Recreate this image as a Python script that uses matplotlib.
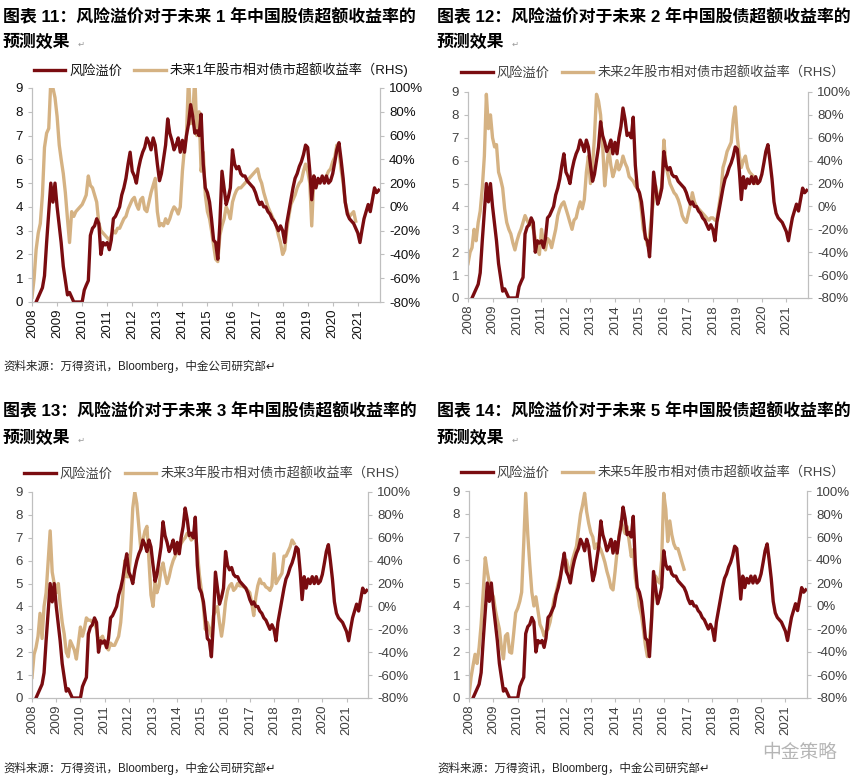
import matplotlib
matplotlib.use('Agg')
import matplotlib.pyplot as plt
import matplotlib.dates as mdates
import pandas as pd
from matplotlib.ticker import FuncFormatter

plt.rcParams['font.family'] = ['Liberation Sans', 'Noto Sans CJK SC', 'DejaVu Sans']

RED = '#7A0C10'
TAN = '#D5B283'
GREY = '#BFBFBF'

# risk premium (LHS), monthly Jan 2008 - Nov 2021
risk_premium = [
    -0.5, -0.3, 0.0, 0.2, 0.4, 0.6, 1.1, 2.5, 3.8, 5.0, 4.2, 5.0,   # 2008
    4.0, 3.2, 2.5, 1.5, 0.9, 0.3, 0.4, 0.2, 0.0, 0.0, 0.0, 0.0,     # 2009
    0.0, 0.5, 0.7, 0.9, 2.8, 3.1, 3.2, 3.5, 3.3, 2.0, 2.5, 2.4,     # 2010
    2.5, 2.2, 2.6, 3.5, 3.6, 3.8, 4.0, 4.5, 4.8, 5.2, 5.8, 6.3,     # 2011
    5.5, 5.3, 5.0, 5.6, 6.0, 6.3, 6.5, 6.9, 6.7, 6.4, 6.9, 6.6,     # 2012
    5.8, 5.1, 5.4, 6.0, 6.6, 7.7, 7.1, 6.8, 6.4, 6.6, 6.9, 6.3,     # 2013
    6.8, 6.3, 7.0, 7.5, 8.3, 7.8, 7.1, 7.2, 7.0, 7.9, 5.8, 4.8,     # 2014
    4.6, 4.2, 3.5, 2.6, 2.5, 1.8, 3.3, 5.5, 4.8, 4.1, 4.4, 4.8,     # 2015
    6.4, 5.8, 5.6, 5.7, 5.4, 5.3, 5.3, 5.1, 5.0, 4.9, 4.8, 4.6,     # 2016
    4.3, 4.1, 4.2, 4.0, 4.0, 3.8, 3.7, 3.5, 3.4, 3.2, 3.0, 3.2,     # 2017
    3.0, 2.5, 3.3, 3.8, 4.3, 4.8, 5.2, 5.4, 5.7, 5.9, 6.2, 6.6,     # 2018
    6.5, 5.5, 4.3, 5.3, 4.8, 5.2, 5.0, 5.3, 5.0, 5.3, 5.0, 5.1,     # 2019
    5.4, 5.9, 6.4, 6.7, 6.0, 5.2, 4.2, 3.7, 3.5, 3.4, 3.3, 3.1,     # 2020
    2.9, 2.5, 3.0, 3.5, 3.8, 4.1, 3.8, 4.3, 4.8, 4.6, 4.7,          # 2021
]

# forward excess return of equities over bonds (RHS, %), monthly from Jan 2008
fwd_1y = [
    -76, -60, -36, -22, -14, 10, 50, 62, 66, 106, 100, 92,
    76, 52, 40, 28, 12, -10, -30, -4, -8, -4, -2, 0,
    2, 6, 10, 26, 18, 16, 10, 4, -14, -20, -22, -24,
    -26, -28, -24, -20, -22, -18, -18, -14, -10, -8, -2, 2,
    6, 8, 2, -2, 6, 8, -2, -4, 4, 12, 18, 24,
    -4, -16, -14, -16, -10, -14, -10, -4, 0, -2, -6, 0,
    30, 50, 60, 110, 70, 76, 110, 60, 80, 30, 46, 10,
    -4, -10, -20, -32, -44, -46, -24, -16, -10, 0, -4, -10,
    4, 10, 14, 16, 16, 18, 20, 22, 24, 26, 28, 30,
    32, 24, 20, 12, 6, 0, -4, -8, -12, -16, -24, -30,
    -40, -36, -20, -8, 2, 6, 10, 16, 20, 22, 30, 36,
    30, 20, -16, 26, 18, 20, 22, 24, 22, 26, 30, 32,
    38, 42, 52, 48, 32, 20, 4, -4, -8, -6, -4, -12,
]

fwd_2y = [
    -50, -40, -36, -20, -30, -14, -4, 16, 44, 98, 68, 80,
    60, 52, 54, 30, 24, 16, -2, -14, -20, -24, -32, -38,
    -30, -24, -20, -14, -8, -12, -16, -14, -20, -28, -36, -42,
    -20, -32, -38, -28, -30, -36, -28, -20, -8, -2, 2, 4,
    -2, -8, -14, -20, -12, -10, -2, 4, -2, 6, 30, 44,
    20, 36, 60, 98, 92, 80, 54, 18, 36, 50, 36, 26,
    32, 40, 32, 36, 44, 38, 34, 26, 24, 22, 18, 16,
    12, -4, -20, -26, -34, -26, -8, 6, 18, 6, 10, 18,
    58, 36, 28, 20, 16, 12, 10, 6, 0, -8, -12, -14,
    -6, 2, 12, 4, 0, -2, -4, -6, -8, -10, -12, -10,
    -10, -12, -12, 0, 12, 34, 40, 48, 52, 56, 76, 87,
    60, 44, 34, 40, 44, 34, 30, 28, 26, 20, 22,
]

fwd_3y = [
    -62, -42, -36, -26, -6, -28, 0, 12, 40, 66, 30, 20,
    12, 20, 2, -14, -24, -40, -44, -30, -34, -38, -46, -32,
    -18, -26, -20, -10, -12, -12, -14, -14, -20, -32, -28, -26,
    -32, -36, -38, -32, -34, -34, -30, -26, -14, 8, 40, 26,
    26, 50, 86, 100, 90, 70, 50, 58, 66, 70, 40, 10,
    0, 22, 12, 18, 32, 38, 28, 20, 26, 34, 40, 44,
    48, 50, 55, 58, 60, 64, 62, 58, 60, 66, 48, 28,
    14, 0, -20, -14, -20, -26, -8, -4, 0, -14, -26, -14,
    4, 14, 18, 20, 14, 16, 20, 18, 18, 17, 16, 14,
    12, 2, -8, 8, 18, 24, 20, 20, 17, 16, 14, 18,
    46, 20, 23, 26, 29, 44, 44, 48, 52, 58, 55,
]

fwd_5y = [
    -78, -62, -52, -42, -50, -36, -16, 12, 42, 30, 20, 12,
    8, -4, -12, -20, -36, -46, -26, -24, -40, -41, -24, -6,
    -2, 4, 12, 54, 98, 62, 36, 12, 0, 8, -4, -16,
    -20, -26, -22, -20, -14, -4, 6, 12, 20, 26, 34, 38,
    40, 32, 28, 40, 46, 52, 66, 80, 88, 98, 82, 72,
    64, 60, 50, 54, 52, 49, 44, 38, 30, 24, 16, 14,
    30, 48, 60, 74, 68, 63, 69, 56, 43, 49, 24, 14,
    0, -8, -20, -34, -44, -30, -12, 12, 26, 22, 20, 40,
    98, 84, 56, 74, 62, 54, 50, 50, 44, 38, 32,
]

dates = pd.date_range('2008-01-01', periods=len(risk_premium), freq='MS')

titles = [
    '图表 11：风险溢价对于未来 1 年中国股债超额收益率的',
    '图表 12：风险溢价对于未来 2 年中国股债超额收益率的',
    '图表 13：风险溢价对于未来 3 年中国股债超额收益率的',
    '图表 14：风险溢价对于未来 5 年中国股债超额收益率的',
]
legend_labels = [
    '未来1年股市相对债市超额收益率（RHS)',
    '未来2年股市相对债市超额收益率（RHS）',
    '未来3年股市相对债市超额收益率（RHS）',
    '未来5年股市相对债市超额收益率（RHS）',
]
source_text = '资料来源：万得资讯，Bloomberg，中金公司研究部'

W, H = 864, 779
fig = plt.figure(figsize=(W / 100, H / 100), dpi=100)


def fx(px):
    return px / W


def fy(py):
    return 1 - py / H


def draw_panel(box, fwd, label, legend_xy, tick_color):
    left, top, right, bottom = box
    ax = fig.add_axes([fx(left), fy(bottom), fx(right - left), (bottom - top) / H])
    ax2 = ax.twinx()
    ax.set_zorder(ax2.get_zorder() + 1)
    ax.patch.set_visible(False)

    l1, = ax.plot(dates, risk_premium, color=RED, lw=2.4, label='风险溢价')
    l2, = ax2.plot(dates[:len(fwd)], fwd, color=TAN, lw=2.4, label=label)

    ax.set_ylim(0, 9)
    ax.set_yticks(range(0, 10))
    ax2.set_ylim(-80, 100)
    ax2.set_yticks(range(-80, 101, 20))
    ax2.yaxis.set_major_formatter(FuncFormatter(lambda v, p: f'{v:.0f}%'))
    ax.set_xlim(pd.Timestamp('2008-01-01'), pd.Timestamp('2021-11-20'))
    ax.xaxis.set_major_locator(mdates.YearLocator())
    ax.xaxis.set_major_formatter(mdates.DateFormatter('%Y'))

    for a in (ax, ax2):
        for s in a.spines.values():
            s.set_color(GREY)
            s.set_linewidth(0.8)
        a.spines['top'].set_visible(False)
        a.tick_params(colors=GREY, labelcolor=tick_color, labelsize=9.5,
                      length=3, width=0.8)
    ax.tick_params(axis='x', labelrotation=90, pad=2)

    ax.legend([l1, l2], ['风险溢价', label], loc='center',
              bbox_to_anchor=(fx(legend_xy[0]), fy(legend_xy[1])),
              bbox_transform=fig.transFigure, ncol=2, frameon=False,
              fontsize=9.5, handlelength=2.4, handletextpad=0.3,
              columnspacing=0.9, labelcolor=tick_color)
    return ax


draw_panel((32, 88, 380, 302), fwd_1y, legend_labels[0], (221, 70), '#111111')
draw_panel((468, 92, 808, 298), fwd_2y, legend_labels[1], (653, 73), '#404040')
draw_panel((32, 492, 368, 698), fwd_3y, legend_labels[2], (216, 474), '#404040')
draw_panel((469, 491, 807, 698), fwd_5y, legend_labels[3], (653, 473), '#404040')

# titles
for (x, y1, y2), t in zip([(3, 17, 42), (437, 17, 42), (3, 411, 438), (437, 411, 438)], titles):
    fig.text(fx(x), fy(y1), t, fontsize=12.2, fontweight='bold', va='center', ha='left')
    fig.text(fx(x), fy(y2), '预测效果', fontsize=12.2, fontweight='bold',
             va='center', ha='left')
    fig.text(fx(x + 75), fy(y2 + 2), '↵', fontsize=6, color='#999999', va='center',
             family='DejaVu Sans')

# sources
for x, y in [(3, 366), (3, 768), (437, 768)]:
    fig.text(fx(x), fy(y), source_text + '↵', fontsize=8.3, color='#222222',
             va='center', ha='left')

# watermark
fig.text(fx(762), fy(753), '中金策略', fontsize=13.5, color='#B5B5B5',
         va='center', ha='left')

fig.savefig('out.png', dpi=100)
